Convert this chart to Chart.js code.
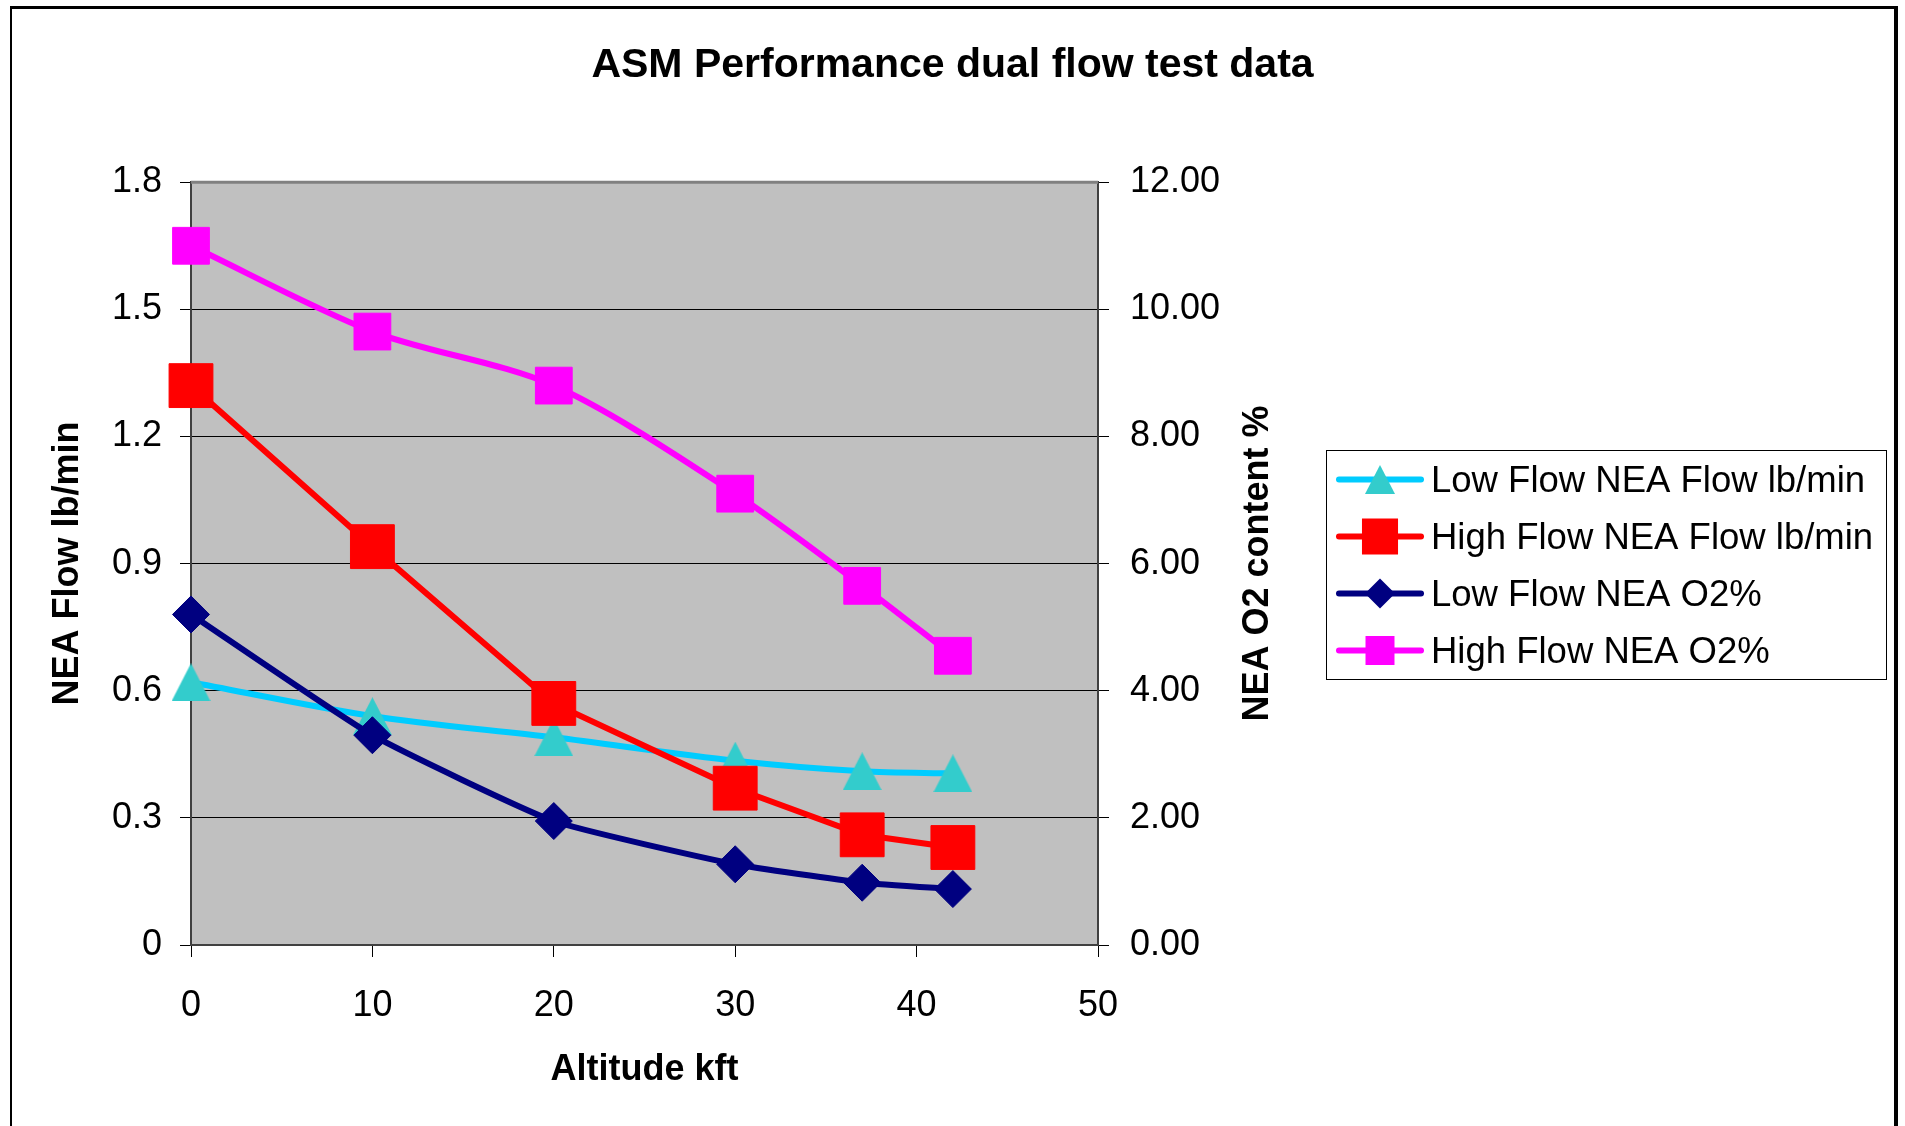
<!DOCTYPE html>
<html>
<head>
<meta charset="utf-8">
<title>ASM Performance dual flow test data</title>
<script src="https://cdn.jsdelivr.net/npm/chart.js@4.4.1/dist/chart.umd.min.js"></script>
<style>
  html, body { margin: 0; padding: 0; background: #fff; }
  #wrap { position: relative; width: 1905px; height: 1126px; }
</style>
</head>
<body>
<div id="wrap"><canvas id="myChart" width="1905" height="1126"></canvas></div>
<script>
// altitude in kft
var altitude = [0, 10, 20, 30, 37, 42];
// left axis, lb/min
var lowFlowNeaFlow = [0.62, 0.54, 0.49, 0.435, 0.41, 0.405];
var highFlowNeaFlow = [1.32, 0.94, 0.57, 0.37, 0.26, 0.23];
// right axis, O2 %
var lowFlowNeaO2 = [5.2, 3.3, 1.95, 1.27, 0.98, 0.88];
var highFlowNeaO2 = [11.0, 9.65, 8.8, 7.1, 5.65, 4.55];

var leftTicks = [0, 0.3, 0.6, 0.9, 1.2, 1.5, 1.8];
var rightTicks = [0, 2, 4, 6, 8, 10, 12];
var xTicks = [0, 10, 20, 30, 40, 50];

var FONT = '"Liberation Sans", Arial, sans-serif';

function toPoints(xs, ys) {
    return xs.map(function(x, i) { return { x: x, y: ys[i] }; });
}

// triangle marker whose bounding box is centred on the point (like Excel)
function makeTriangle(w, h, color) {
    var c = document.createElement('canvas');
    c.width = w;
    c.height = h;
    var g = c.getContext('2d');
    g.fillStyle = color;
    g.beginPath();
    g.moveTo(w / 2, 0);
    g.lineTo(w, h);
    g.lineTo(0, h);
    g.closePath();
    g.fill();
    return c;
}

var triangleBig = makeTriangle(39, 38, '#33cccc');
var triangleSmall = makeTriangle(30, 29, '#33cccc');

var legendMarkers = [
    { style: triangleSmall },
    { style: 'rect', radius: 25.5, color: '#ff0000' },
    { style: 'rectRot', radius: 15, color: '#000080' },
    { style: 'rect', radius: 20.5, color: '#ff00ff' }
];

var plotBackground = {
    id: 'plotBackground',
    beforeDraw: function(chart) {
        var ctx = chart.ctx;
        var a = chart.chartArea;
        ctx.save();
        ctx.fillStyle = '#ffffff';
        ctx.fillRect(0, 0, chart.width, chart.height);
        ctx.fillStyle = '#c0c0c0';
        ctx.fillRect(a.left, a.top, a.right - a.left, a.bottom - a.top);
        ctx.restore();
    },
    beforeDatasetsDraw: function(chart) {
        var ctx = chart.ctx;
        var a = chart.chartArea;
        ctx.save();
        ctx.strokeStyle = '#808080';
        ctx.lineWidth = 3;
        ctx.beginPath();
        ctx.moveTo(a.left, a.top);
        ctx.lineTo(a.right, a.top);
        ctx.stroke();
        ctx.restore();
    }
};

var extras = {
    id: 'extras',
    afterDraw: function(chart) {
        var ctx = chart.ctx;
        var a = chart.chartArea;
        ctx.save();

        // right axis title, reading bottom to top
        ctx.fillStyle = '#000';
        ctx.font = 'bold 36px ' + FONT;
        ctx.textAlign = 'center';
        ctx.textBaseline = 'middle';
        ctx.translate(1258, (a.top + a.bottom) / 2);
        ctx.rotate(-Math.PI / 2);
        ctx.fillText('NEA O2 content %', 0, 0);
        ctx.setTransform(1, 0, 0, 1, 0, 0);

        // legend
        ctx.fillStyle = '#fff';
        ctx.fillRect(1326, 450, 560, 229);
        ctx.strokeStyle = '#000';
        ctx.lineWidth = 1;
        ctx.strokeRect(1326.5, 450.5, 560, 229);

        chart.data.datasets.forEach(function(ds, i) {
            var y = 479.5 + i * 57;
            ctx.strokeStyle = ds.borderColor;
            ctx.lineWidth = 6;
            ctx.lineCap = 'round';
            ctx.beginPath();
            ctx.moveTo(1339, y);
            ctx.lineTo(1421, y);
            ctx.stroke();

            var m = legendMarkers[i];
            if (typeof m.style === 'object') {
                ctx.drawImage(m.style, 1380 - m.style.width / 2, y - m.style.height / 2);
            } else {
                var r = m.radius;
                ctx.fillStyle = m.color;
                ctx.beginPath();
                if (m.style === 'rect') {
                    var s = r * Math.SQRT1_2;
                    ctx.rect(1380 - s, y - s, 2 * s, 2 * s);
                } else {
                    ctx.moveTo(1380 - r, y);
                    ctx.lineTo(1380, y - r);
                    ctx.lineTo(1380 + r, y);
                    ctx.lineTo(1380, y + r);
                    ctx.closePath();
                }
                ctx.fill();
            }

            ctx.fillStyle = '#000';
            ctx.font = '36.5px ' + FONT;
            ctx.textAlign = 'left';
            ctx.textBaseline = 'middle';
            ctx.fillText(ds.label, 1431, y + 2);
        });

        // outer frame (top, left, right)
        ctx.fillStyle = '#000';
        ctx.fillRect(10, 6, 1888, 3);
        ctx.fillRect(10, 6, 2, 1120);
        ctx.fillRect(1894, 6, 4, 1120);
        ctx.restore();
    }
};

var tickFont = { family: FONT, size: 36 };
var axisTitleFont = { family: FONT, size: 36, weight: 'bold' };

var ctx = document.getElementById('myChart').getContext('2d');
var myChart = new Chart(ctx, {
    type: 'line',
    data: {
        datasets: [
            {
                label: 'Low Flow NEA Flow lb/min',
                data: toPoints(altitude, lowFlowNeaFlow),
                yAxisID: 'y',
                borderColor: '#00ccff',
                backgroundColor: '#33cccc',
                borderWidth: 6,
                tension: 0.3,
                pointStyle: triangleBig,
                pointRadius: 22,
                order: 4,
                clip: false
            },
            {
                label: 'High Flow NEA Flow lb/min',
                data: toPoints(altitude, highFlowNeaFlow),
                yAxisID: 'y',
                borderColor: '#ff0000',
                backgroundColor: '#ff0000',
                borderWidth: 6,
                tension: 0,
                pointStyle: 'rect',
                pointRadius: 31,
                pointBorderWidth: 1,
                order: 3,
                clip: false
            },
            {
                label: 'Low Flow NEA O2%',
                data: toPoints(altitude, lowFlowNeaO2),
                yAxisID: 'y2',
                borderColor: '#000080',
                backgroundColor: '#000080',
                borderWidth: 6,
                tension: 0.15,
                pointStyle: 'rectRot',
                pointRadius: 18.5,
                pointBorderWidth: 1,
                order: 2,
                clip: false
            },
            {
                label: 'High Flow NEA O2%',
                data: toPoints(altitude, highFlowNeaO2),
                yAxisID: 'y2',
                borderColor: '#ff00ff',
                backgroundColor: '#ff00ff',
                borderWidth: 6,
                tension: 0.3,
                pointStyle: 'rect',
                pointRadius: 26,
                pointBorderWidth: 1,
                order: 1,
                clip: false
            }
        ]
    },
    options: {
        responsive: false,
        animation: false,
        events: [],
        layout: { padding: 0 },
        plugins: {
            legend: { display: false },
            tooltip: { enabled: false },
            title: {
                display: true,
                text: 'ASM Performance dual flow test data',
                color: '#000',
                font: { family: FONT, size: 41, weight: 'bold' },
                padding: { top: 41, bottom: 92 }
            }
        },
        scales: {
            x: {
                type: 'linear',
                min: 0,
                max: 50,
                afterBuildTicks: function(scale) {
                    scale.ticks = xTicks.map(function(v) { return { value: v }; });
                },
                ticks: { color: '#000', font: tickFont, padding: 27, maxRotation: 0 },
                grid: { drawOnChartArea: false, tickLength: 12, color: '#000', lineWidth: 1 },
                border: { color: '#404040', width: 2 },
                title: {
                    display: true,
                    text: 'Altitude kft',
                    color: '#000',
                    font: axisTitleFont,
                    padding: { top: 0, bottom: 34 }
                },
                afterFit: function(scale) { scale.height = 181; }
            },
            y: {
                position: 'left',
                min: 0,
                max: 1.8,
                afterBuildTicks: function(scale) {
                    scale.ticks = leftTicks.map(function(v) { return { value: v }; });
                },
                ticks: {
                    color: '#000',
                    font: tickFont,
                    padding: 18,
                    callback: function(v) { return v === 0 ? '0' : v.toFixed(1); }
                },
                grid: { color: '#000', lineWidth: 1, tickLength: 11 },
                border: { color: '#404040', width: 2 },
                title: {
                    display: true,
                    text: 'NEA Flow lb/min',
                    color: '#000',
                    font: axisTitleFont,
                    padding: { top: 46, bottom: 0 }
                },
                afterFit: function(scale) { scale.width = 191; }
            },
            y2: {
                position: 'right',
                min: 0,
                max: 12,
                afterBuildTicks: function(scale) {
                    scale.ticks = rightTicks.map(function(v) { return { value: v }; });
                },
                ticks: {
                    color: '#000',
                    font: tickFont,
                    padding: 21,
                    callback: function(v) { return v.toFixed(2); }
                },
                grid: { drawOnChartArea: false, tickLength: 11, color: '#000' },
                border: { color: '#404040', width: 2 },
                afterFit: function(scale) { scale.width = 1905 - 1098; }
            }
        }
    },
    plugins: [plotBackground, extras]
});
</script>
</body>
</html>
